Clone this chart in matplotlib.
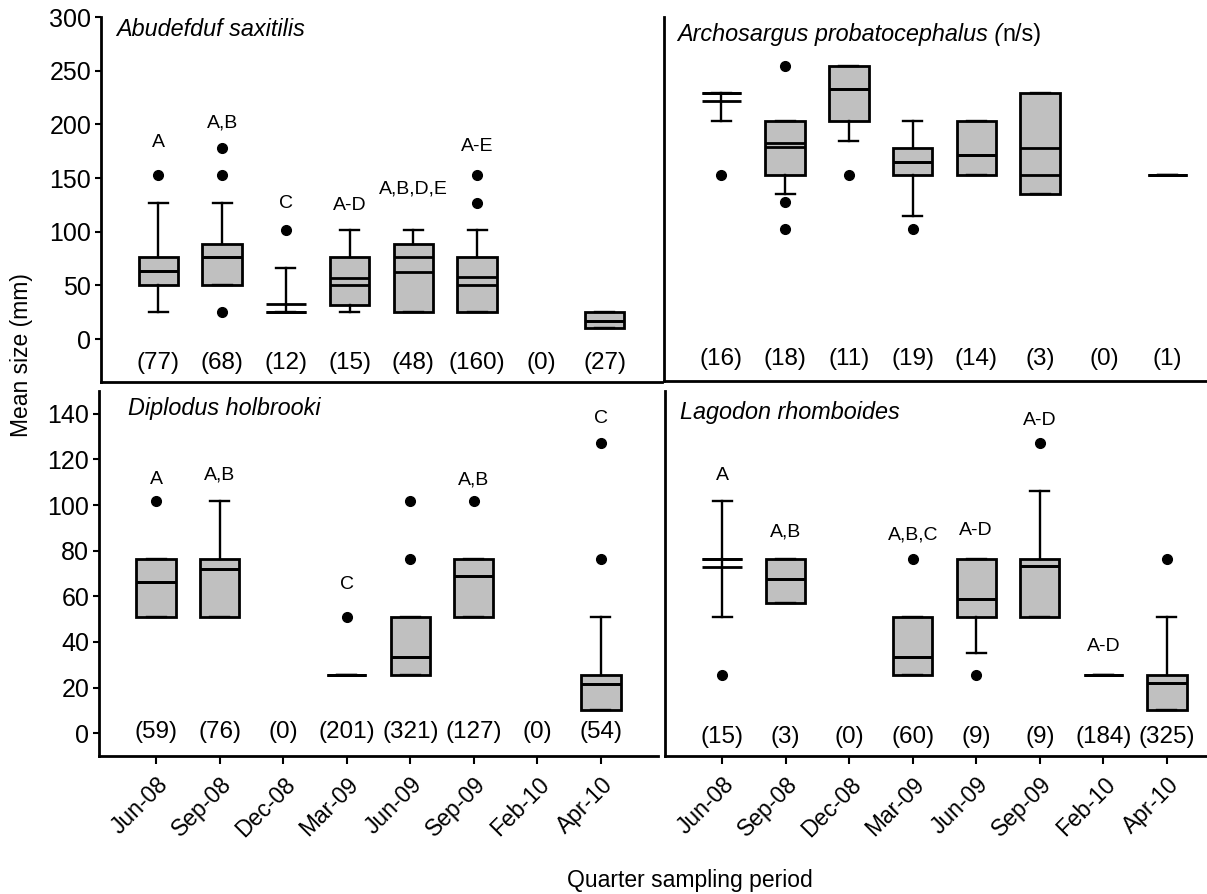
import numpy as np
import matplotlib
matplotlib.use("Agg")
import matplotlib.pyplot as plt

plt.rcParams['font.family'] = ['Liberation Sans', 'DejaVu Sans']

periods = ['Jun-08', 'Sep-08', 'Dec-08', 'Mar-09', 'Jun-09', 'Sep-09', 'Feb-10', 'Apr-10']
nan = np.nan

# Abudefduf saxitilis
A_q1 = [50.8, 50.8, 25.4, 31.8, 25.4, 25.4, nan, 10.2]
A_q3 = [76.2, 88.9, 25.4, 76.2, 88.9, 76.2, nan, 25.4]
A_med = [63.5, 76.2, 25.4, 50.8, 76.2, 50.8, nan, 17.0]
A_mean = [63.5, 76.2, 33.0, 57.2, 62.2, 58.0, nan, 17.0]
A_lo = [25.4, 50.8, 25.4, 25.4, 25.4, 25.4, nan, 10.2]
A_hi = [127.0, 127.0, 66.0, 101.6, 101.6, 101.6, nan, 25.4]
A_fl = [[152.4], [25.4, 152.4, 177.8], [101.6], [], [], [127.0, 152.4], [], []]
A_n = [77, 68, 12, 15, 48, 160, 0, 27]
A_let = ['A', 'A,B', 'C', 'A-D', 'A,B,D,E', 'A-E', '', '']
A_let_y = [183, 201, 126, 124, 140, 179, 0, 0]

# Archosargus probatocephalus
B_q1 = [228.6, 152.4, 203.2, 152.4, 152.4, 134.6, nan, 152.4]
B_q3 = [228.6, 203.2, 254.0, 177.8, 203.2, 228.6, nan, 152.4]
B_med = [228.6, 182.0, 232.5, 164.5, 171.5, 152.4, nan, 152.4]
B_mean = [222.0, 179.0, 232.5, 164.5, 171.5, 177.8, nan, 152.4]
B_lo = [203.2, 135.0, 184.0, 114.3, 152.4, 134.6, nan, 152.4]
B_hi = [228.6, 203.2, 254.0, 203.2, 203.2, 228.6, nan, 152.4]
B_fl = [[152.4], [101.6, 127.0, 254.0], [152.4], [101.6], [], [], [], []]
B_n = [16, 18, 11, 19, 14, 3, 0, 1]

# Diplodus holbrooki
C_q1 = [50.8, 50.8, nan, 25.4, 25.4, 50.8, nan, 10.2]
C_q3 = [76.2, 76.2, nan, 25.4, 50.8, 76.2, nan, 25.4]
C_med = [66.4, 72.0, nan, 25.4, 33.5, 68.9, nan, 21.6]
C_mean = [66.4, 72.0, nan, 25.4, 33.5, 68.9, nan, 21.6]
C_lo = [50.8, 50.8, nan, 25.4, 25.4, 50.8, nan, 10.2]
C_hi = [76.2, 101.6, nan, 25.4, 50.8, 76.2, nan, 50.8]
C_fl = [[101.6], [], [], [50.8], [76.2, 101.6], [101.6], [], [76.2, 127.0]]
C_n = [59, 76, 0, 201, 321, 127, 0, 54]
C_let = ['A', 'A,B', '', 'C', '', 'A,B', '', 'C']
C_let_y = [111, 113, 0, 65, 0, 111, 0, 138]

# Lagodon rhomboides
D_q1 = [76.2, 57.2, nan, 25.4, 50.8, 50.8, 25.4, 10.2]
D_q3 = [76.2, 76.2, nan, 50.8, 76.2, 76.2, 25.4, 25.4]
D_med = [76.2, 67.4, nan, 33.2, 59.0, 73.3, 25.4, 22.2]
D_mean = [73.0, 67.4, nan, 33.2, 59.0, 73.3, 25.4, 22.2]
D_lo = [50.8, 57.2, nan, 25.4, 35.2, 50.8, 25.4, 10.2]
D_hi = [101.6, 76.2, nan, 50.8, 76.2, 106.3, 25.4, 50.8]
D_fl = [[25.4], [], [], [76.2], [25.4], [127.0], [], [76.2]]
D_n = [15, 3, 0, 60, 9, 9, 184, 325]
D_let = ['A', 'A,B', '', 'A,B,C', 'A-D', 'A-D', 'A-D', '']
D_let_y = [113, 88, 0, 87, 89, 137, 38, 0]

W, H = 1207, 894
fig = plt.figure(figsize=(W / 100, H / 100), dpi=100)


def add_ax(x0, x1, ytop, ybot):
    return fig.add_axes([x0 / W, 1 - ybot / H, (x1 - x0) / W, (ybot - ytop) / H])


ax_tl = add_ax(101, 662, 17, 382)
ax_tr = add_ax(664, 1225, 17, 381)
ax_bl = add_ax(99, 658, 391, 756)
ax_br = add_ax(665, 1224, 391, 756)

TICK_FS = 18
XTICK_FS = 16.5
N_FS = 17.5
LET_FS = 14
TITLE_FS = 16.8


def panel(ax, q1, q3, med, mean, lo, hi, fl, n, let, let_y, n_y, ylim, yticks,
          show_yticks, show_xticks):
    stats, pos = [], []
    for i in range(len(periods)):
        if n[i] == 0:
            continue
        stats.append(dict(q1=q1[i], q3=q3[i], med=med[i], mean=mean[i],
                          whislo=lo[i], whishi=hi[i], fliers=fl[i], label=periods[i]))
        pos.append(i + 1)
    ax.bxp(stats, positions=pos, widths=0.62, capwidths=0.3, showmeans=True,
           meanline=True, patch_artist=True, showfliers=True,
           boxprops=dict(facecolor='#c0c0c0', edgecolor='black', linewidth=2.0),
           medianprops=dict(color='black', linewidth=2.0),
           meanprops=dict(color='black', linestyle='-', linewidth=2.0),
           whiskerprops=dict(color='black', linewidth=1.7),
           capprops=dict(color='black', linewidth=1.7),
           flierprops=dict(marker='o', markerfacecolor='black',
                           markeredgecolor='black', markersize=7))
    for i in range(len(periods)):
        ax.text(i + 1, n_y, f'({n[i]})', ha='center', va='center', fontsize=N_FS)
        if let is not None and let[i]:
            ax.text(i + 1, let_y[i], let[i], ha='center', va='center', fontsize=LET_FS)
    ax.set_xlim(0.1, 8.9)
    ax.set_ylim(*ylim)
    for s in ['top', 'right']:
        ax.spines[s].set_visible(False)
    for s in ['left', 'bottom']:
        ax.spines[s].set_linewidth(2.0)
    ax.patch.set_alpha(0)
    if show_yticks:
        ax.set_yticks(yticks)
        ax.tick_params(axis='y', direction='out', length=4, width=1.5,
                       labelsize=TICK_FS, pad=3)
    else:
        ax.set_yticks([])
    if show_xticks:
        ax.set_xticks(range(1, 9))
        ax.set_xticklabels(periods, rotation=45, ha='right', va='top',
                           rotation_mode='anchor', fontsize=XTICK_FS)
        ax.tick_params(axis='x', direction='out', length=6, width=1.5, pad=6)
    else:
        ax.set_xticks([])


panel(ax_tl, A_q1, A_q3, A_med, A_mean, A_lo, A_hi, A_fl, A_n, A_let, A_let_y,
      -22.5, (-40, 300), range(0, 301, 50), True, False)
panel(ax_tr, B_q1, B_q3, B_med, B_mean, B_lo, B_hi, B_fl, B_n, None, None,
      -19, (-40, 300), range(0, 301, 50), False, False)
panel(ax_bl, C_q1, C_q3, C_med, C_mean, C_lo, C_hi, C_fl, C_n, C_let, C_let_y,
      0.6, (-10, 150), range(0, 141, 20), True, True)
panel(ax_br, D_q1, D_q3, D_med, D_mean, D_lo, D_hi, D_fl, D_n, D_let, D_let_y,
      -1.5, (-10, 150), range(0, 141, 20), False, True)

ax_tl.text(0.027, 0.967, 'Abudefduf saxitilis', transform=ax_tl.transAxes,
           style='italic', fontsize=TITLE_FS, ha='left', va='center')
t1 = ax_tr.text(0.023, 0.953, 'Archosargus probatocephalus (', transform=ax_tr.transAxes,
                style='italic', fontsize=TITLE_FS, ha='left', va='center')
ax_tr.annotate('n/s)', xy=(1, 0), xycoords=t1, ha='left', va='bottom',
               fontsize=TITLE_FS)
ax_bl.text(0.052, 0.951, 'Diplodus holbrooki', transform=ax_bl.transAxes,
           style='italic', fontsize=TITLE_FS, ha='left', va='center')
ax_br.text(0.027, 0.942, 'Lagodon rhomboides', transform=ax_br.transAxes,
           style='italic', fontsize=TITLE_FS, ha='left', va='center')

fig.text(690 / W, 1 - 880 / H, 'Quarter sampling period', ha='center', va='center',
         fontsize=16.5)
fig.text(22 / W, 1 - 355 / H, 'Mean size (mm)', ha='center', va='center',
         rotation=90, fontsize=16.5)

fig.savefig('out.png', dpi=100)
